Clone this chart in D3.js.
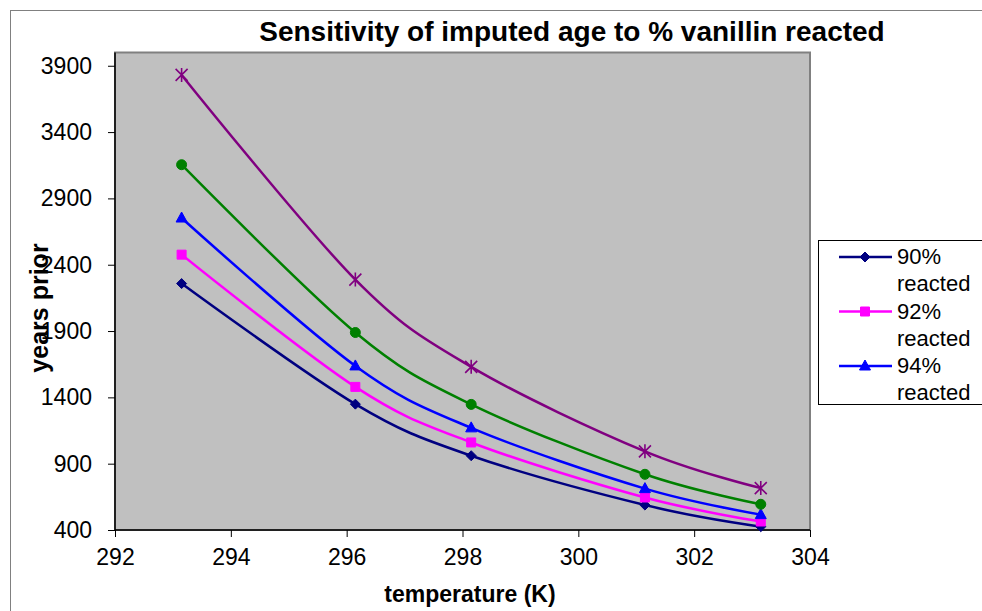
<!DOCTYPE html>
<html>
<head>
<script src="https://d3js.org/d3.v7.min.js"></script>
<style>
  body { margin: 0; background: #fff; }
  svg { display: block; font-family: "Liberation Sans", Arial, sans-serif; }
</style>
</head>
<body>
<svg width="982" height="611"></svg>
<script>
const temps = [293.15, 296.15, 298.15, 301.15, 303.15];
const seriesNames = ["90% reacted", "92% reacted", "94% reacted", "96% reacted", "98% reacted"];
const years90 = [2258, 1349, 960, 588, 425];
const years92 = [2476, 1479, 1060, 645, 464];
const years94 = [2752, 1637, 1170, 712, 516];
const years96 = [3154, 1889, 1347, 820, 594];
const years98 = [3831, 2288, 1630, 993, 716];
const xTicks = [292, 294, 296, 298, 300, 302, 304];
const yTicks = [400, 900, 1400, 1900, 2400, 2900, 3400, 3900];

const colors = ["#000080", "#FF00FF", "#0000FF", "#008000", "#800080"];
const markers = ["diamond", "square", "triangle", "circle", "star"];
const allYears = [years90, years92, years94, years96, years98];

const svg = d3.select("svg");
const plot = {left: 115, right: 810, top: 52.5, bottom: 530};

const x = d3.scaleLinear().domain([292, 304]).range([plot.left, plot.right]);
const y = d3.scaleLinear().domain([400, 4000]).range([plot.bottom, plot.top]);

// outer chart border
svg.append("rect")
   .attr("x", 10.5).attr("y", 10.5)
   .attr("width", 1200).attr("height", 800)
   .attr("fill", "#fff").attr("stroke", "#808080").attr("stroke-width", 1);

// plot background
svg.append("rect")
   .attr("x", plot.left).attr("y", plot.top)
   .attr("width", plot.right - plot.left).attr("height", plot.bottom - plot.top)
   .attr("fill", "#C0C0C0").attr("stroke", "#808080").attr("stroke-width", 2);

// axes
const xAxis = svg.append("g")
   .attr("transform", `translate(0,${plot.bottom})`)
   .call(d3.axisBottom(x).tickValues(xTicks).tickFormat(d3.format("d"))
          .tickSize(7).tickSizeOuter(0).tickPadding(12));
const yAxis = svg.append("g")
   .attr("transform", `translate(${plot.left},0)`)
   .call(d3.axisLeft(y).tickValues(yTicks).tickFormat(d3.format("d"))
          .tickSize(7).tickSizeOuter(0).tickPadding(16));

[xAxis, yAxis].forEach(a => {
    a.select(".domain").attr("stroke", "#000").attr("stroke-width", 1.5);
    a.selectAll(".tick line").attr("stroke", "#000");
    a.selectAll(".tick text").attr("fill", "#000").style("font-size", "23px")
     .style("font-family", "Liberation Sans, Arial, sans-serif");
});
yAxis.select(".domain").attr("d", `M0,${plot.top}V${plot.bottom}`);
xAxis.select(".domain").attr("d", `M${plot.left},0H${plot.right}`);

function markerPath(type) {
    const p = d3.path();
    if (type === "star") {
        const r = 6;
        p.moveTo(-r, -r); p.lineTo(r, r);
        p.moveTo(-r, r); p.lineTo(r, -r);
        p.moveTo(0, -r - 1); p.lineTo(0, r + 1);
    } else if (type === "diamond") {
        const r = 5;
        p.moveTo(0, -r); p.lineTo(r, 0); p.lineTo(0, r); p.lineTo(-r, 0); p.closePath();
    } else if (type === "square") {
        p.rect(-4.5, -4.5, 9, 9);
    } else if (type === "triangle") {
        p.moveTo(0, -6); p.lineTo(5.5, 4); p.lineTo(-5.5, 4); p.closePath();
    } else {
        p.arc(0, 0, 5, 0, 2 * Math.PI);
    }
    return p.toString();
}

function drawMarker(g, type, color, cx, cy) {
    const m = g.append("path").attr("d", markerPath(type))
       .attr("transform", `translate(${cx},${cy})`);
    if (type === "star") m.attr("fill", "none").attr("stroke", color).attr("stroke-width", 1.6);
    else m.attr("fill", color).attr("stroke", color).attr("stroke-width", 1);
}

const line = d3.line()
   .x(d => x(d[0])).y(d => y(d[1]))
   .curve(d3.curveCatmullRom.alpha(0));

const series = svg.append("g");
allYears.forEach((vals, i) => {
    const pts = temps.map((t, j) => [t, vals[j]]);
    series.append("path")
       .attr("d", line(pts))
       .attr("fill", "none")
       .attr("stroke", colors[i])
       .attr("stroke-width", 2.5);
});
allYears.forEach((vals, i) => {
    temps.forEach((t, j) => drawMarker(series, markers[i], colors[i], x(t), y(vals[j])));
});

// title and axis titles
svg.append("text")
   .attr("x", 572).attr("y", 41)
   .attr("text-anchor", "middle")
   .style("font-size", "28px").style("font-weight", "bold")
   .text("Sensitivity of imputed age to % vanillin reacted");

svg.append("text")
   .attr("x", 470).attr("y", 602)
   .attr("text-anchor", "middle")
   .style("font-size", "23px").style("font-weight", "bold")
   .text("temperature (K)");

svg.append("text")
   .attr("transform", "translate(48,308) rotate(-90)")
   .attr("text-anchor", "middle")
   .style("font-size", "25px").style("font-weight", "bold")
   .text("years prior");

// legend (clipped to its box, as in the original)
const leg = {x: 818.5, y: 240.5, w: 200, h: 164};
svg.append("clipPath").attr("id", "legclip")
   .append("rect").attr("x", leg.x).attr("y", leg.y).attr("width", leg.w).attr("height", leg.h);
svg.append("rect")
   .attr("x", leg.x).attr("y", leg.y).attr("width", leg.w).attr("height", leg.h)
   .attr("fill", "#fff").attr("stroke", "#000").attr("stroke-width", 1);
const lg = svg.append("g").attr("clip-path", "url(#legclip)");
seriesNames.forEach((name, i) => {
    const ly = 257 + i * 54.5;
    lg.append("line")
      .attr("x1", 839).attr("x2", 892).attr("y1", ly).attr("y2", ly)
      .attr("stroke", colors[i]).attr("stroke-width", 2.5);
    drawMarker(lg, markers[i], colors[i], 865, ly);
    const parts = name.split(" ");
    const t = lg.append("text").attr("x", 897).attr("y", ly + 7).style("font-size", "22px");
    t.append("tspan").attr("x", 897).text(parts[0]);
    t.append("tspan").attr("x", 897).attr("dy", 27).text(parts[1]);
});
</script>
</body>
</html>
